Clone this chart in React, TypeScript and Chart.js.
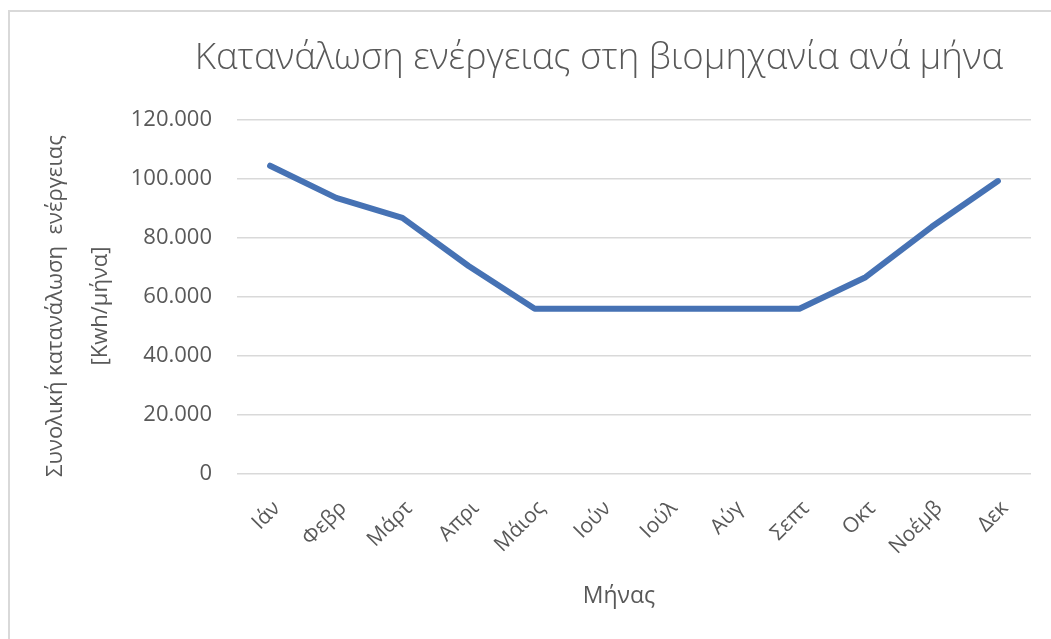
import React, { useEffect, useRef } from 'react';
import { Chart, registerables } from 'chart.js';

Chart.register(...registerables);

const TITLE = 'Κατανάλωση ενέργειας στη βιομηχανία ανά μήνα';
const Y_TITLE = ['Συνολική κατανάλωση  ενέργειας', '[Kwh/μήνα]'];
const X_TITLE = 'Μήνας';
const MONTHS = ['Ιάν', 'Φεβρ', 'Μάρτ', 'Απρι', 'Μάιος', 'Ιούν', 'Ιούλ', 'Αύγ', 'Σεπτ', 'Οκτ', 'Νοέμβ', 'Δεκ'];
const CONSUMPTION = [104500, 93600, 86800, 70500, 56000, 56000, 56000, 56000, 56000, 66700, 83800, 99300];
const Y_MIN = 0;
const Y_MAX = 120000;
const Y_STEP = 20000;

const TEXT = '#595959';
const FONT = '"Open Sans", "Noto Sans", sans-serif';

function fmt(v: number): string {
  if (v === 0) return '0';
  return String(Math.round(v)).replace(/\B(?=(\d{3})+(?!\d))/g, '.');
}

const decor = {
  id: 'decor',
  beforeDraw(chart: any) {
    const ctx = chart.ctx;
    ctx.save();
    ctx.fillStyle = '#ffffff';
    ctx.fillRect(0, 0, chart.width, chart.height);
    ctx.strokeStyle = '#d9d9d9';
    ctx.lineWidth = 2;
    ctx.beginPath();
    ctx.moveTo(9, chart.height);
    ctx.lineTo(9, 11);
    ctx.lineTo(chart.width, 11);
    ctx.stroke();
    ctx.restore();
  },
  afterDraw(chart: any) {
    const ctx = chart.ctx;
    const area = chart.chartArea;
    ctx.save();
    ctx.fillStyle = TEXT;
    ctx.textAlign = 'center';
    ctx.textBaseline = 'middle';
    ctx.font = `300 36.5px ${FONT}`;
    ctx.fillText(TITLE, 599, 59);
    ctx.font = `400 23px ${FONT}`;
    ctx.fillText(X_TITLE, 619, 596);
    const cy = (area.top + area.bottom) / 2 + 9;
    ctx.font = `400 22px ${FONT}`;
    const xs = [56, 101];
    Y_TITLE.forEach((t, i) => {
      ctx.save();
      ctx.translate(xs[i], cy);
      ctx.rotate(-Math.PI / 2);
      ctx.fillText(t, 0, 0);
      ctx.restore();
    });
    ctx.restore();
  },
};

export default function App() {
  const ref = useRef<HTMLCanvasElement | null>(null);
  useEffect(() => {
    document.body.style.margin = '0';
    const canvas = ref.current!;
    const chart = new Chart(canvas, {
      type: 'line',
      data: {
        labels: MONTHS,
        datasets: [
          {
            data: CONSUMPTION,
            borderColor: '#4672B4',
            borderWidth: 6,
            pointRadius: 0,
            pointHoverRadius: 0,
            tension: 0,
            fill: false,
            borderJoinStyle: 'round',
            borderCapStyle: 'round',
          },
        ],
      },
      options: {
        responsive: false,
        animation: false,
        devicePixelRatio: 1,
        layout: { padding: { left: 10, right: 20, top: 120, bottom: 10 } },
        plugins: {
          legend: { display: false },
          tooltip: { enabled: false },
          title: { display: false },
        },
        scales: {
          x: {
            type: 'category',
            offset: true,
            grid: { display: false, drawTicks: false },
            border: { display: false },
            ticks: {
              color: TEXT,
              font: { family: FONT, size: 21 },
              minRotation: 45,
              maxRotation: 45,
              padding: 22,
              labelOffset: 7,
              autoSkip: false,
            },
            afterFit(scale: any) {
              scale.height = 155;
            },
          },
          y: {
            min: Y_MIN,
            max: Y_MAX,
            grid: { color: '#d9d9d9', lineWidth: 1.5, drawTicks: false },
            border: { display: false },
            ticks: {
              stepSize: Y_STEP,
              color: TEXT,
              font: { family: FONT, size: 22 },
              padding: 25,
              callback: (v: any) => fmt(Number(v)),
            },
            afterFit(scale: any) {
              scale.width = 227;
            },
          },
        },
      },
      plugins: [decor],
    });
    return () => chart.destroy();
  }, []);
  return <canvas ref={ref} width={1051} height={639} style={{ display: 'block' }} />;
}
